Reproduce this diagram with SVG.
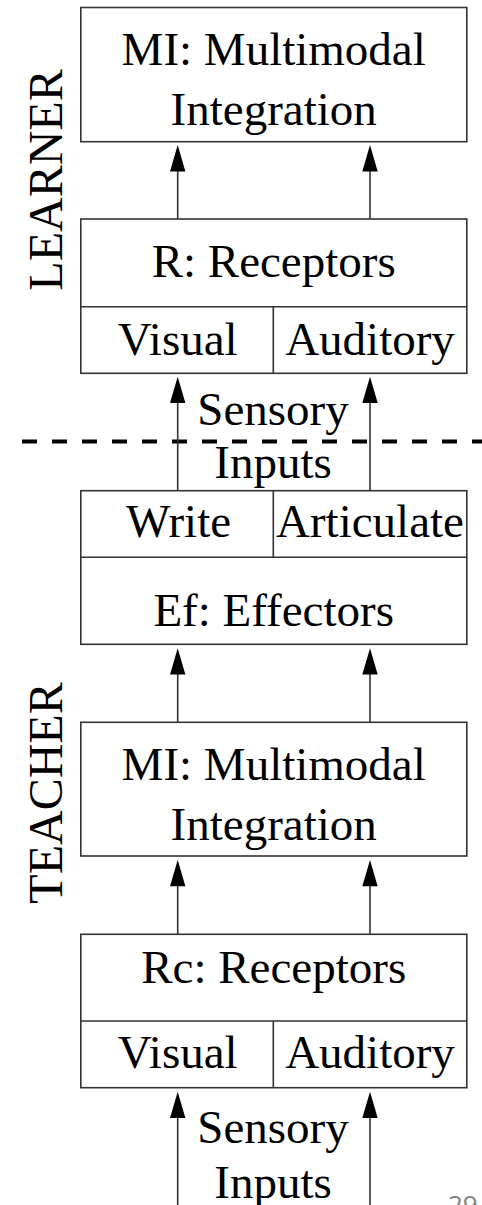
<svg xmlns="http://www.w3.org/2000/svg" width="482" height="1205" viewBox="0 0 482 1205">
<defs>
<style>
.box{fill:#fff;stroke:#333;stroke-width:1.6}
.ln{stroke:#333;stroke-width:1.6;fill:none}
.t{font-family:"Liberation Serif","Times New Roman",serif;font-size:47px;fill:#000;text-anchor:middle}
.side{font-family:"Liberation Serif","Times New Roman",serif;font-size:48px;fill:#000;text-anchor:middle}
.ah{fill:#000}
</style>
</defs>
<rect width="482" height="1205" fill="#fff"/>
<text class="side" transform="translate(62,180) rotate(-90)">LEARNER</text>
<text class="side" transform="translate(62,793) rotate(-90)">TEACHER</text>
<line x1="22" y1="441.5" x2="482" y2="441.5" stroke="#000" stroke-width="4" stroke-dasharray="15 15"/>
<g id="connectors">
<line class="ln" x1="177.7" y1="219" x2="177.7" y2="160"/>
<line class="ln" x1="370" y1="219" x2="370" y2="160"/>
<polygon class="ah" points="177.7,145 170,171.5 185.4,171.5"/>
<polygon class="ah" points="370,145 362.3,171.5 377.7,171.5"/>
<line class="ln" x1="177.7" y1="490.7" x2="177.7" y2="390"/>
<line class="ln" x1="370" y1="490.7" x2="370" y2="390"/>
<polygon class="ah" points="177.7,376.7 170,403 185.4,403"/>
<polygon class="ah" points="370,376.7 362.3,403 377.7,403"/>
<line class="ln" x1="177.7" y1="722.3" x2="177.7" y2="660"/>
<line class="ln" x1="370" y1="722.3" x2="370" y2="660"/>
<polygon class="ah" points="177.7,648.3 170,674.5 185.4,674.5"/>
<polygon class="ah" points="370,648.3 362.3,674.5 377.7,674.5"/>
<line class="ln" x1="177.7" y1="934.3" x2="177.7" y2="872"/>
<line class="ln" x1="370" y1="934.3" x2="370" y2="872"/>
<polygon class="ah" points="177.7,860 170,886.3 185.4,886.3"/>
<polygon class="ah" points="370,860 362.3,886.3 377.7,886.3"/>
<line class="ln" x1="177.7" y1="1205" x2="177.7" y2="1105"/>
<line class="ln" x1="370" y1="1205" x2="370" y2="1105"/>
<polygon class="ah" points="177.7,1091.7 170,1118 185.4,1118"/>
<polygon class="ah" points="370,1091.7 362.3,1118 377.7,1118"/>
<text class="t" x="273" y="425">Sensory</text>
<text class="t" x="273" y="478">Inputs</text>
<text class="t" x="273" y="1143">Sensory</text>
<text class="t" x="273" y="1198">Inputs</text>
</g>
<g id="learner-mi">
<rect class="box" x="80.8" y="7.5" width="386" height="134.2"/>
<text class="t" x="273.7" y="65">MI: Multimodal</text>
<text class="t" x="273.7" y="125">Integration</text>
</g>
<g id="learner-r">
<rect class="box" x="80.8" y="219" width="386" height="154.3"/>
<line class="ln" x1="80.8" y1="306.7" x2="466.8" y2="306.7"/>
<line class="ln" x1="273.3" y1="306.7" x2="273.3" y2="373.3"/>
<text class="t" x="273.7" y="277">R: Receptors</text>
<text class="t" x="177.7" y="355">Visual</text>
<text class="t" x="370" y="355">Auditory</text>
</g>
<g id="teacher-ef">
<rect class="box" x="80.8" y="490.7" width="386" height="153.6"/>
<line class="ln" x1="80.8" y1="557.3" x2="466.8" y2="557.3"/>
<line class="ln" x1="273.3" y1="490.7" x2="273.3" y2="557.3"/>
<text class="t" x="178.5" y="537">Write</text>
<text class="t" x="370" y="537">Articulate</text>
<text class="t" x="273.7" y="625.7">Ef: Effectors</text>
</g>
<g id="teacher-mi">
<rect class="box" x="80.8" y="722.3" width="386" height="133.7"/>
<text class="t" x="273.7" y="780">MI: Multimodal</text>
<text class="t" x="273.7" y="840">Integration</text>
</g>
<g id="teacher-rc">
<rect class="box" x="80.8" y="934.3" width="386" height="153.4"/>
<line class="ln" x1="80.8" y1="1021" x2="466.8" y2="1021"/>
<line class="ln" x1="273.3" y1="1021" x2="273.3" y2="1087.7"/>
<text class="t" x="273.7" y="983.3">Rc: Receptors</text>
<text class="t" x="177.7" y="1068">Visual</text>
<text class="t" x="370" y="1068">Auditory</text>
</g>
<text x="448" y="1214" font-family="'Open Sans','Liberation Sans',sans-serif" font-size="26" fill="#7f7f7f">29</text>
</svg>
